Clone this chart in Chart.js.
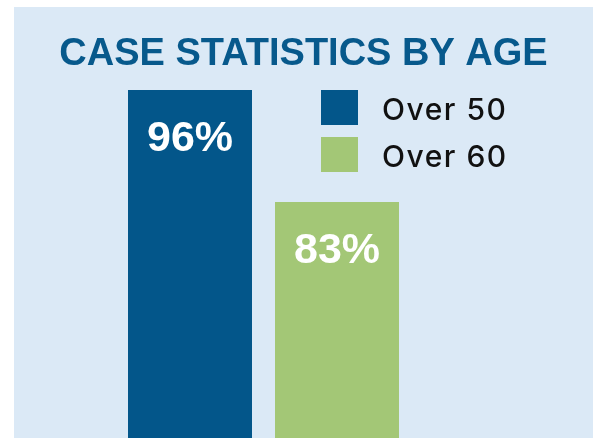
<!DOCTYPE html>
<html>
<head>
<meta charset="utf-8">
<script src="https://cdn.jsdelivr.net/npm/chart.js@4/dist/chart.umd.min.js"></script>
<style>
  html, body { margin: 0; padding: 0; background: #ffffff; }
  body { width: 593px; height: 438px; position: relative; overflow: hidden; }
  #panel { position: absolute; left: 14px; top: 7px; width: 579px; height: 431px; background: #dbe9f6; }
  #c { display: block; }
</style>
</head>
<body>
<div id="panel"><canvas id="c" width="579" height="431"></canvas></div>
<script>
// ---- data ----
const chartTitle = "CASE STATISTICS BY AGE";
const categories = [""];
const seriesNames = ["Over 50", "Over 60"];
const over50 = [96];
const over60 = [83];
const valueSuffix = "%";

const colors = ["#03568a", "#a3c776"];

const overlayPlugin = {
  id: "overlay",
  afterDatasetsDraw(chart) {
    const ctx = chart.ctx;
    ctx.save();
    // value labels inside bars
    ctx.fillStyle = "#ffffff";
    ctx.textAlign = "center";
    ctx.textBaseline = "alphabetic";
    ctx.font = "bold 43px 'Liberation Sans', Arial, sans-serif";
    chart.data.datasets.forEach((ds, i) => {
      const meta = chart.getDatasetMeta(i);
      meta.data.forEach((bar, j) => {
        ctx.fillText(ds.data[j] + valueSuffix, bar.x, bar.y + 61);
      });
    });
    // title
    ctx.fillStyle = "#07598c";
    ctx.font = "bold 38px 'Liberation Sans', Arial, sans-serif";
    ctx.textAlign = "center";
    ctx.fillText(chartTitle, chart.width / 2, 58);
    // legend
    ctx.textAlign = "left";
    ctx.font = "500 30px Inter, 'Liberation Sans', sans-serif";
    if ("letterSpacing" in ctx) ctx.letterSpacing = "1.5px";
    chart.data.datasets.forEach((ds, i) => {
      const y = 83 + i * 47;
      ctx.fillStyle = ds.backgroundColor;
      ctx.fillRect(307, y, 37, 35);
      ctx.fillStyle = "#111111";
      ctx.fillText(ds.label, 368, y + 30);
    });
    ctx.restore();
  }
};

new Chart(document.getElementById("c"), {
  type: "bar",
  data: {
    labels: categories,
    datasets: [
      { label: seriesNames[0], data: over50, backgroundColor: colors[0] },
      { label: seriesNames[1], data: over60, backgroundColor: colors[1] }
    ]
  },
  options: {
    responsive: false,
    animation: false,
    layout: { padding: { left: 102.5, right: 182.5, top: 83, bottom: 0 } },
    datasets: { bar: { categoryPercentage: 1, barPercentage: 0.8435, borderWidth: 0 } },
    scales: {
      x: { display: false },
      y: { display: false, min: 55.6, max: 96 }
    },
    plugins: {
      legend: { display: false },
      title: { display: false },
      tooltip: { enabled: false }
    }
  },
  plugins: [overlayPlugin]
});
</script>
</body>
</html>
